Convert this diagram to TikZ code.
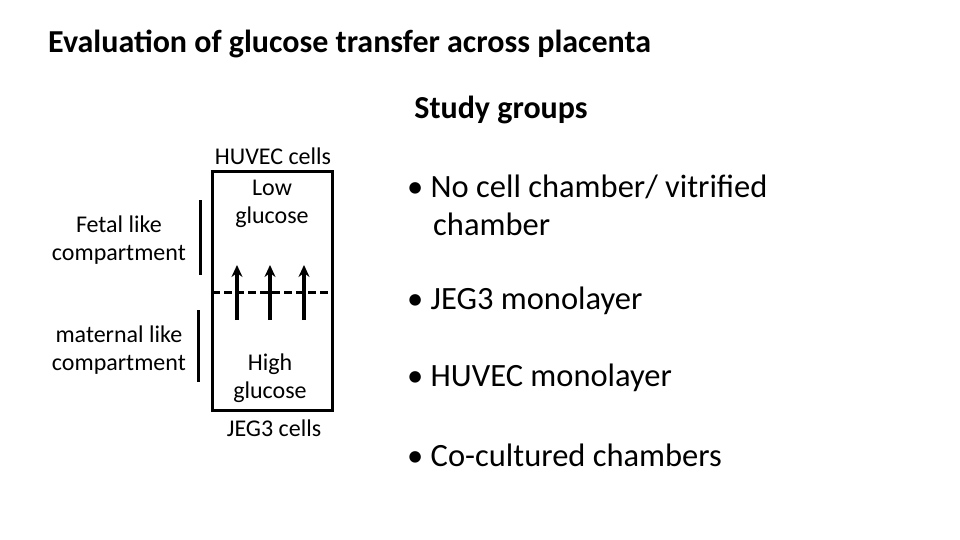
\documentclass[tikz,border=0pt]{standalone}
\usepackage{fontspec}
\setmainfont{Carlito}
\usetikzlibrary{arrows.meta}
\begin{document}
\begin{tikzpicture}[x=1pt,y=-1pt,
  lbl/.style={inner sep=0pt,align=center,font=\fontsize{24}{28}\selectfont},
  bul/.style={inner sep=0pt,anchor=west,align=left,font=\fontsize{32.5}{38}\selectfont},
  bar/.style={line width=3pt},
  arr/.style={line width=4pt,-{Stealth[length=12pt,width=11pt]}}]
\useasboundingbox (0,0) rectangle (960,540);
\node[inner sep=0pt,anchor=west,font=\bfseries\fontsize{32}{38}\selectfont] (title) at (48,44) {Evaluation of glucose transfer across placenta};
\node[inner sep=0pt,font=\bfseries\fontsize{32}{38}\selectfont] (sg) at (501,110) {Study groups};
\draw[line width=3pt] (212,172) rectangle (332,410);
\node[lbl] (huvec) at (273,156) {HUVEC cells};
\node[lbl] (low) at (272,204) {Low\\glucose};
\node[lbl] (high) at (270,378) {High\\glucose};
\node[lbl] (jeg) at (274,428) {JEG3 cells};
\node[lbl,anchor=east] (fetal) at (186,240) {Fetal like\\compartment};
\node[lbl,anchor=east] (mat) at (186,350) {maternal like\\compartment};
\coordinate (d1) at (212,292); \coordinate (d2) at (332,292);
\draw[line width=3pt,dash pattern=on 8pt off 4pt] (d1) -- (d2);
\foreach \x/\n in {237/a,270/b,304/c}{
  \coordinate (s\n) at (\x,320); \coordinate (e\n) at (\x,265);
  \draw[arr] (s\n) -- (e\n);}
\coordinate (b1) at (200,200); \coordinate (b2) at (200,275);
\draw[bar] (b1) -- (b2);
\coordinate (b3) at (198,310); \coordinate (b4) at (198,382);
\draw[bar] (b3) -- (b4);
\node[bul] (g1) at (407,205) {• No cell chamber/ vitrified\\\hspace*{0.8em}chamber};
\node[bul] (g2) at (407,301) {• JEG3 monolayer};
\node[bul] (g3) at (407,378) {• HUVEC monolayer};
\node[bul] (g4) at (407,455) {• Co-cultured chambers};
\end{tikzpicture}
\end{document}
